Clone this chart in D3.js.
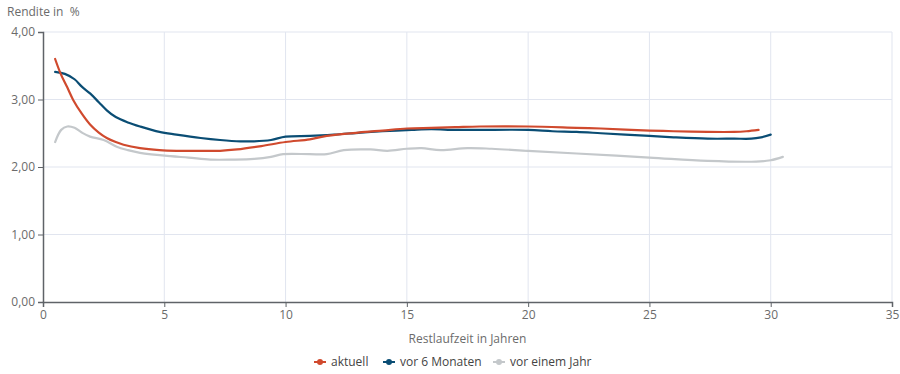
<!DOCTYPE html>
<html>
<head>
<meta charset="utf-8">
<script src="https://cdn.jsdelivr.net/npm/d3@7"></script>
<style>
  html, body { margin: 0; padding: 0; background: #fff; }
  svg { display: block; font-family: "Open Sans", sans-serif; }
</style>
</head>
<body>
<div id="chart"></div>
<script>
// Restlaufzeit (Jahre) / Rendite (%) je Kurve
var aktuellX = [0.5, 0.73, 1.0, 1.25, 1.6, 1.94, 2.3, 2.63, 3.0, 3.32, 4.0, 4.8, 5.5, 6.5, 7.3, 8.0, 9.0, 10.0, 11.0, 11.7, 13.0, 14.0, 15.0, 16.0, 17.0, 18.0, 20.0, 22.0, 23.0, 25.0, 26.0, 27.4, 28.5, 29.0, 29.5];
var aktuellY = [3.60, 3.38, 3.18, 2.99, 2.79, 2.63, 2.51, 2.43, 2.37, 2.33, 2.28, 2.25, 2.24, 2.24, 2.24, 2.26, 2.31, 2.37, 2.41, 2.46, 2.51, 2.54, 2.57, 2.58, 2.59, 2.60, 2.60, 2.58, 2.57, 2.54, 2.53, 2.52, 2.52, 2.53, 2.55];

var sechsMonateX = [0.5, 0.9, 1.3, 1.6, 1.94, 2.3, 2.63, 3.0, 3.5, 4.0, 4.8, 5.5, 6.5, 7.3, 8.14, 8.7, 9.4, 10.0, 11.0, 12.0, 13.1, 14.0, 15.2, 16.0, 17.0, 18.0, 20.0, 21.0, 22.0, 23.0, 24.0, 25.0, 26.0, 27.4, 28.5, 29.2, 29.6, 30.0];
var sechsMonateY = [3.41, 3.38, 3.30, 3.19, 3.09, 2.96, 2.84, 2.74, 2.66, 2.60, 2.52, 2.48, 2.43, 2.40, 2.38, 2.38, 2.40, 2.45, 2.46, 2.48, 2.51, 2.53, 2.55, 2.56, 2.55, 2.55, 2.55, 2.53, 2.52, 2.50, 2.48, 2.46, 2.44, 2.42, 2.42, 2.42, 2.44, 2.48];

var einJahrX = [0.5, 0.75, 1.0, 1.3, 1.6, 1.94, 2.5, 3.04, 3.5, 4.0, 5.25, 6.0, 6.9, 7.8, 8.7, 9.4, 9.9, 11.0, 11.7, 12.4, 13.5, 14.2, 15.0, 15.6, 16.4, 17.5, 18.5, 20.0, 22.0, 25.0, 27.4, 29.4, 30.0, 30.5];
var einJahrY = [2.37, 2.55, 2.60, 2.58, 2.51, 2.45, 2.40, 2.30, 2.25, 2.21, 2.16, 2.14, 2.11, 2.11, 2.12, 2.15, 2.19, 2.19, 2.19, 2.25, 2.26, 2.24, 2.27, 2.28, 2.25, 2.28, 2.27, 2.24, 2.20, 2.14, 2.09, 2.08, 2.10, 2.15];

var seriesNames = ["aktuell", "vor 6 Monaten", "vor einem Jahr"];
var seriesColors = ["#d04a2e", "#0a4d74", "#c4c8cb"];
var xTicks = [0, 5, 10, 15, 20, 25, 30, 35];
var yTicks = [0, 1, 2, 3, 4];

var series = [
  { name: seriesNames[0], color: seriesColors[0], xs: aktuellX, ys: aktuellY },
  { name: seriesNames[1], color: seriesColors[1], xs: sechsMonateX, ys: sechsMonateY },
  { name: seriesNames[2], color: seriesColors[2], xs: einJahrX, ys: einJahrY }
];

var width = 900, height = 374,
    margin = { top: 32, right: 8, bottom: 72, left: 43 },
    plotW = width - margin.left - margin.right,
    plotH = height - margin.top - margin.bottom,
    textColor = "#6b6b6b",
    axisColor = "#5f6368",
    gridColor = "#e1e5ef";

var svg = d3.select("#chart").append("svg")
    .attr("width", width)
    .attr("height", height);

var x = d3.scaleLinear().domain([0, 35]).range([0, plotW]);
var y = d3.scaleLinear().domain([0, 4]).range([plotH, 0]);

var g = svg.append("g")
    .attr("transform", "translate(" + margin.left + "," + margin.top + ")");

// grid
g.append("g").selectAll("line").data(xTicks.slice(1))
  .enter().append("line")
    .attr("x1", function(d) { return x(d); })
    .attr("x2", function(d) { return x(d); })
    .attr("y1", 0).attr("y2", plotH)
    .attr("stroke", gridColor).attr("stroke-width", 1);
g.append("g").selectAll("line").data(yTicks.slice(1))
  .enter().append("line")
    .attr("x1", 0).attr("x2", plotW)
    .attr("y1", function(d) { return y(d); })
    .attr("y2", function(d) { return y(d); })
    .attr("stroke", gridColor).attr("stroke-width", 1);

// axes
var fmt = function(d) { return d3.format(".2f")(d).replace(".", ","); };

var yAxis = g.append("g")
    .call(d3.axisLeft(y).tickValues(yTicks).tickFormat(fmt).tickSize(5).tickPadding(3));
var xAxis = g.append("g")
    .attr("transform", "translate(0," + plotH + ")")
    .call(d3.axisBottom(x).tickValues(xTicks).tickSize(5).tickPadding(3));

[xAxis, yAxis].forEach(function(a) {
  a.select(".domain").attr("stroke", axisColor).attr("stroke-width", 1.5);
  a.selectAll(".tick line").attr("stroke", axisColor);
  a.selectAll(".tick text").attr("fill", textColor).style("font-size", "12px")
    .style("font-family", "'Open Sans', sans-serif");
});

// lines
var line = d3.line()
    .x(function(d) { return x(d[0]); })
    .y(function(d) { return y(d[1]); })
    .curve(d3.curveCatmullRom.alpha(0.5));

g.append("g").selectAll("path").data(series.slice().reverse())
  .enter().append("path")
    .attr("d", function(s) { return line(d3.zip(s.xs, s.ys)); })
    .attr("fill", "none")
    .attr("stroke", function(s) { return s.color; })
    .attr("stroke-width", 2.2)
    .attr("stroke-linejoin", "round")
    .attr("stroke-linecap", "round");

// titles
svg.append("text")
    .attr("x", 7).attr("y", 16)
    .attr("fill", textColor)
    .style("font-size", "12px")
    .style("white-space", "pre")
    .attr("xml:space", "preserve")
    .text("Rendite in  %");

svg.append("text")
    .attr("x", margin.left + plotW / 2).attr("y", 343)
    .attr("text-anchor", "middle")
    .attr("fill", textColor)
    .style("font-size", "12px")
    .text("Restlaufzeit in Jahren");

// legend
var legend = svg.append("g").attr("transform", "translate(314,362)");
var offs = [0, 69, 179];
var items = legend.selectAll("g").data(series)
  .enter().append("g")
    .attr("transform", function(d, i) { return "translate(" + offs[i] + ",0)"; });
items.append("line")
    .attr("x1", 0).attr("x2", 12).attr("y1", 0).attr("y2", 0)
    .attr("stroke", function(d) { return d.color; })
    .attr("stroke-width", 2);
items.append("circle")
    .attr("cx", 6).attr("cy", 0).attr("r", 3)
    .attr("fill", function(d) { return d.color; });
items.append("text")
    .attr("x", 17).attr("y", 4)
    .attr("fill", "#444")
    .style("font-size", "12px")
    .text(function(d) { return d.name; });
</script>
</body>
</html>
